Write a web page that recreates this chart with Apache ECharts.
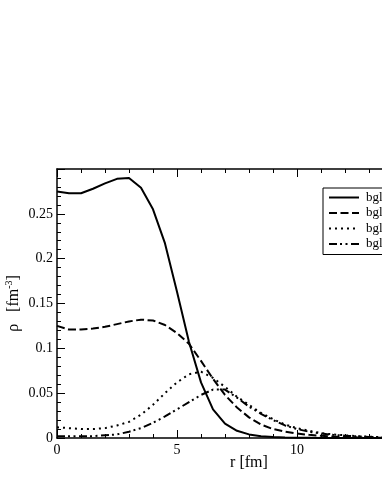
<!DOCTYPE html>
<html>
<head>
<meta charset="utf-8">
<script src="https://cdn.jsdelivr.net/npm/echarts@6/dist/echarts.min.js"></script>
<style>
  html, body { margin: 0; padding: 0; background: #fff; }
  #chart { width: 382px; height: 494px; }
</style>
</head>
<body>
<div id="chart"></div>
<script>
// radio r [fm], paso 0.5
const rValues = [0, 0.5, 1, 1.5, 2, 2.5, 3, 3.5, 4, 4.5, 5, 5.5, 6, 6.5, 7, 7.5, 8,
  8.5, 9, 9.5, 10, 10.5, 11, 11.5, 12, 12.5, 13, 13.5, 14, 14.5, 15, 15.5, 16];

// densidades
const solidRho = [0.275, 0.273, 0.273, 0.278, 0.284, 0.289, 0.290, 0.279, 0.255, 0.217,
  0.163, 0.107, 0.062, 0.032, 0.016, 0.008, 0.004, 0.002, 0.001, 0.0006,
  0.0003, 0.0002, 0.0001, 0, 0, 0, 0, 0, 0, 0, 0, 0, 0];
const dashedRho = [0.125, 0.121, 0.121, 0.122, 0.124, 0.127, 0.130, 0.132, 0.131, 0.126,
  0.117, 0.105, 0.086, 0.066, 0.048, 0.034, 0.023, 0.015, 0.010, 0.007,
  0.005, 0.0035, 0.0025, 0.0017, 0.0012, 0.0008, 0.0005, 0.0003, 0.0002, 0.0001,
  0.0001, 0, 0];
const dottedRho = [0.012, 0.011, 0.010, 0.010, 0.011, 0.014, 0.018, 0.026, 0.037, 0.050,
  0.062, 0.071, 0.074, 0.067, 0.057, 0.046, 0.037, 0.028, 0.021, 0.015,
  0.011, 0.008, 0.0055, 0.004, 0.003, 0.002, 0.0015, 0.001, 0.0007, 0.0005,
  0.0003, 0.0002, 0.0001];
const dashDotRho = [0.002, 0.002, 0.002, 0.002, 0.003, 0.004, 0.007, 0.011, 0.017, 0.024,
  0.032, 0.040, 0.048, 0.054, 0.054, 0.045, 0.035, 0.027, 0.020, 0.014,
  0.010, 0.007, 0.005, 0.0035, 0.0025, 0.0018, 0.0012, 0.0008, 0.0005, 0.0003,
  0.0002, 0.0001, 0.0001];

const seriesNames = ['bgl1', 'bgl2', 'bgl3', 'bgl4'];
const seriesData = [solidRho, dashedRho, dottedRho, dashDotRho];
const dashTypes = ['solid', [8, 3.5], [2, 4], [8, 3, 2, 3.5, 2, 3.5]];

const serif = '"Liberation Serif", "DejaVu Serif", serif';

const chart = echarts.init(document.getElementById('chart'));

// eje x comun (abajo y arriba)
function makeXAxis(pos, withLabels) {
  return {
    type: 'value',
    position: pos,
    min: 0,
    max: 16,
    interval: 5,
    name: withLabels ? 'r [fm]' : '',
    nameLocation: 'middle',
    nameGap: 17,
    nameMoveOverlap: false,
    nameTextStyle: { fontFamily: serif, fontSize: 16, color: '#000' },
    axisLine: { show: true, lineStyle: { color: '#000', width: 1.5 } },
    axisTick: { show: true, inside: true, length: 8, lineStyle: { color: '#000', width: 1 } },
    minorTick: { show: true, splitNumber: 5, length: 4, lineStyle: { color: '#000', width: 1 } },
    axisLabel: {
      show: withLabels,
      showMaxLabel: false,
      margin: 5,
      fontFamily: serif,
      fontSize: 14,
      color: '#000'
    },
    splitLine: { show: false },
    minorSplitLine: { show: false }
  };
}

const option = {
  animation: false,
  backgroundColor: '#fff',
  grid: { left: 57, top: 169, width: 384, height: 269, outerBoundsMode: 'none', containLabel: false },
  legend: {
    orient: 'vertical',
    left: 323,
    top: 188,
    padding: [3, 10, 4, 5],
    itemWidth: 30,
    itemHeight: 12,
    itemGap: 2.5,
    borderColor: '#000',
    borderWidth: 1,
    itemStyle: { opacity: 0 },
    textStyle: { fontFamily: serif, fontSize: 13, lineHeight: 13, color: '#000', padding: [0, 0, 0, 2] },
    data: seriesNames
  },
  xAxis: [makeXAxis('bottom', true), makeXAxis('top', false)],
  yAxis: {
    type: 'value',
    min: 0,
    max: 0.3,
    interval: 0.05,
    name: '{a|ρ   [fm}{s|-3}{a|]}',
    nameLocation: 'middle',
    nameRotate: 90,
    nameGap: 34,
    nameMoveOverlap: false,
    nameTextStyle: {
      rich: {
        a: { fontFamily: serif, fontSize: 16, color: '#000' },
        s: { fontFamily: serif, fontSize: 10, color: '#000', verticalAlign: 'top', padding: [0, 0, 9, 0] }
      }
    },
    axisLine: { show: true, lineStyle: { color: '#000', width: 1.5 } },
    axisTick: { show: true, inside: true, length: 8, lineStyle: { color: '#000', width: 1 } },
    minorTick: { show: true, splitNumber: 5, length: 4, lineStyle: { color: '#000', width: 1 } },
    axisLabel: {
      showMaxLabel: false,
      margin: 4,
      fontFamily: serif,
      fontSize: 14,
      color: '#000',
      formatter: function (v) { return String(+v.toFixed(2)); }
    },
    splitLine: { show: false }
  },
  series: seriesNames.map(function (name, i) {
    return {
      name: name,
      type: 'line',
      xAxisIndex: 0,
      symbol: 'none',
      smooth: false,
      clip: true,
      data: rValues.map(function (r, k) { return [r, seriesData[i][k]]; }),
      lineStyle: { color: '#000', width: 2, type: dashTypes[i], cap: 'butt' },
      itemStyle: { color: '#000' }
    };
  })
};

chart.setOption(option);
</script>
</body>
</html>
